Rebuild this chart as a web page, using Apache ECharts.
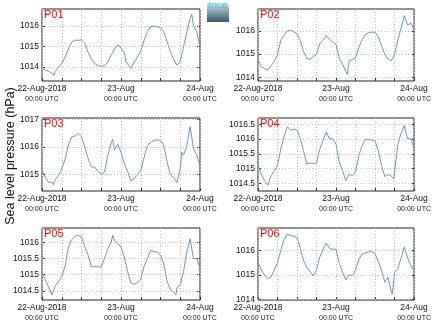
<!DOCTYPE html>
<html><head><meta charset="utf-8">
<script src="https://cdn.jsdelivr.net/npm/echarts@6/dist/echarts.min.js"></script>
<style>html,body{margin:0;padding:0;background:#fff}#c{width:434px;height:327px}</style>
</head><body><div id="c"></div>
<script>
// ---- data ----
const panelNames = ['P01', 'P02', 'P03', 'P04', 'P05', 'P06'];
const xTickLabels = { 0: ['22-Aug-2018', '00:00 UTC'], 24: ['23-Aug', '00:00 UTC'], 48: ['24-Aug', '00:00 UTC'] };
const yAxisTitle = 'Sea level pressure (hPa)';

const p01Hours = [0,1,2,3,3.6,4,5,6,7,8,9,10,11,12,13,14,15,16,17,18,19,20,21,22,23,23.7,24.2,25,25.5,26,27,28,29,30,31,32,33,34,35,36,37,38,39,40,41,42,43,44,45,45.5,46,47,48];
const p01Values = [1013.93,1013.84,1013.77,1013.70,1013.57,1013.75,1013.98,1014.16,1014.48,1014.87,1015.21,1015.31,1015.30,1015.32,1015.16,1014.72,1014.38,1014.16,1014.06,1014.03,1014.04,1014.23,1014.57,1014.87,1015.08,1014.98,1015.05,1014.70,1014.25,1014.30,1013.90,1014.23,1014.48,1014.77,1015.28,1015.72,1015.97,1016.00,1015.97,1015.93,1015.72,1015.23,1014.74,1014.36,1014.08,1014.25,1014.98,1015.72,1016.38,1016.59,1016.05,1015.72,1014.98];

const p02Hours = [0,1,2,3,4,5,6,7,8,9,10,11,12,13,14,15,16,17,18,19,20,21,22,23,24,25,26,27,27.5,28,29,30,31,32,33,34,35,36,37,38,39,40,41,42,43,44,45,46,47,48];
const p02Values = [1014.79,1014.45,1014.38,1014.30,1014.50,1014.70,1014.98,1015.60,1015.82,1016.00,1016.03,1015.96,1015.88,1015.58,1015.12,1014.82,1014.77,1014.90,1014.99,1015.46,1015.60,1015.82,1015.63,1015.52,1015.42,1014.80,1014.57,1014.25,1014.12,1014.70,1014.76,1014.85,1015.28,1015.62,1015.85,1015.92,1015.95,1015.94,1015.75,1015.38,1014.99,1014.79,1014.72,1014.98,1015.61,1016.12,1016.67,1016.25,1016.35,1016.04];

const p03Hours = [0,1,2,3,3.5,4,5,6,7,8,9,10,11,12,13,14,15,16,17,18,19,20,21,21.5,22,23,24,25,26,27,28,29,30,31,32,33,34,35,36,37,38,39,40,41,42,42.5,43,44,45,46,47,48];
const p03Values = [1015.15,1014.90,1014.70,1014.72,1014.62,1014.80,1014.95,1015.20,1015.55,1016.06,1016.36,1016.40,1016.49,1016.37,1016.00,1015.58,1015.27,1015.27,1015.10,1015.00,1015.08,1015.70,1016.14,1016.28,1015.90,1016.10,1015.80,1015.40,1015.12,1014.75,1014.85,1014.98,1015.15,1015.60,1016.05,1016.17,1016.24,1016.26,1016.24,1016.05,1015.45,1014.98,1014.88,1014.70,1015.20,1015.82,1015.70,1016.05,1016.75,1015.95,1015.70,1015.33];

const p04Hours = [0,1,2,3,4,5,6,7,8,9,10,11,12,13,14,15,16,17,18,19,20,21,22,23,24,25,26,27,28,29,30,31,32,33,34,35,36,37,38,39,40,41,41.8,42,43,44,45,46,47,48];
const p04Values = [1015.13,1014.80,1014.60,1014.44,1014.75,1014.93,1015.10,1015.65,1016.07,1016.42,1016.30,1016.33,1016.30,1016.02,1015.60,1015.15,1015.19,1015.16,1015.19,1015.65,1015.95,1016.24,1016.00,1016.01,1015.82,1015.22,1014.93,1014.59,1014.80,1014.76,1014.88,1015.44,1015.78,1015.99,1015.97,1015.97,1015.93,1015.60,1015.10,1014.73,1014.80,1014.75,1014.65,1014.90,1015.80,1016.20,1016.45,1016.00,1016.03,1015.67];

const p05Hours = [0,1,2,3,4,5,6,7,8,9,10,11,12,13,14,15,16,17,18,19,20,21,21.5,22,23,24,25,26,27,28,29,30,31,32,33,34,35,36,37,38,39,40,40.7,41,42,43,44,45,45.3,46,47,48];
const p05Values = [1015.06,1014.85,1014.62,1014.38,1014.65,1014.78,1014.95,1015.25,1015.85,1016.08,1016.18,1016.21,1016.17,1015.86,1015.60,1015.24,1015.25,1015.24,1015.25,1015.50,1015.80,1016.00,1016.22,1016.05,1015.97,1015.85,1015.55,1015.10,1014.75,1014.70,1014.77,1014.85,1015.25,1015.50,1015.75,1015.71,1015.70,1015.60,1015.33,1014.80,1014.55,1014.46,1014.38,1014.60,1014.70,1015.10,1015.70,1016.11,1016.16,1015.50,1015.50,1015.19];

const p06Hours = [0,1,2,3,4,5,6,7,8,9,10,11,12,13,14,15,16,17,18,19,20,21,22,23,24,25,26,27,28,29,30,31,32,33,34,35,36,37,38,39,40,40.5,41,41.3,42,43,44,45,46,47,48];
const p06Values = [1015.55,1015.20,1015.00,1014.85,1014.92,1015.20,1015.50,1016.00,1016.45,1016.68,1016.62,1016.60,1016.53,1016.10,1015.60,1015.32,1015.15,1014.97,1015.20,1015.73,1016.06,1016.31,1016.10,1016.05,1016.06,1015.47,1015.11,1014.80,1015.00,1014.98,1015.20,1015.62,1015.85,1015.90,1015.95,1015.97,1015.87,1015.55,1015.20,1014.70,1014.90,1014.85,1014.30,1014.21,1015.10,1015.25,1015.70,1016.15,1015.70,1015.38,1015.18];

const p01Ticks = [1014, 1015, 1016];
const p02Ticks = [1014, 1015, 1016];
const p03Ticks = [1015, 1016, 1017];
const p04Ticks = [1014.5, 1015, 1015.5, 1016, 1016.5];
const p05Ticks = [1014.5, 1015, 1015.5, 1016];
const p06Ticks = [1014, 1015, 1016];

const yRanges = [[1013.3, 1016.84], [1013.84, 1016.95], [1014.39, 1017.06], [1014.24, 1016.71], [1014.22, 1016.44], [1013.97, 1016.93]];

// ---- layout ----
const hoursList = [p01Hours, p02Hours, p03Hours, p04Hours, p05Hours, p06Hours];
const valuesList = [p01Values, p02Values, p03Values, p04Values, p05Values, p06Values];
const ticksList = [p01Ticks, p02Ticks, p03Ticks, p04Ticks, p05Ticks, p06Ticks];
const colLeft = [42, 258], colWidth = [158, 157];
const rowTop = [9, 118, 228], rowHeight = [72, 73, 72];
const FONT = 'Liberation Sans, Arial, Helvetica, sans-serif';
const gridLineStyle = { color: '#c4c4c4', type: [1, 2], width: 1 };

const grids = [], xAxes = [], yAxes = [], series = [], graphics = [];
panelNames.forEach((name, i) => {
  const r = Math.floor(i / 2), c = i % 2;
  grids.push({ left: colLeft[c], top: rowTop[r], width: colWidth[c], height: rowHeight[r],
    show: true, borderColor: '#222', borderWidth: 1, backgroundColor: '#fff' });
  xAxes.push({ type: 'value', gridIndex: i, min: 0, max: 48, interval: 6,
    axisLine: { show: false },
    axisTick: { show: true, inside: true, length: 3, lineStyle: { color: '#333' } },
    splitLine: { show: true, lineStyle: gridLineStyle },
    axisLabel: { show: true, margin: 3, showMinLabel: true, showMaxLabel: true, hideOverlap: false,
      formatter: v => xTickLabels[v] ? '{a|' + xTickLabels[v][0] + '}\n{b|' + xTickLabels[v][1] + '}' : '',
      rich: { a: { fontSize: 8.5, fontFamily: FONT, color: '#111', lineHeight: 10, align: 'center' },
              b: { fontSize: 7, fontFamily: FONT, color: '#222', lineHeight: 10, align: 'center' } } } });
  const ticks = ticksList[i];
  yAxes.push({ type: 'value', gridIndex: i, min: yRanges[i][0], max: yRanges[i][1],
    axisLine: { show: false },
    axisTick: { show: true, inside: true, length: 3, customValues: ticks, lineStyle: { color: '#333' } },
    splitLine: { show: false },
    axisLabel: { show: true, margin: 3, customValues: ticks, fontSize: 8.5, fontFamily: FONT, color: '#111',
      formatter: v => String(v) } });
  yAxes.push({ type: 'value', gridIndex: i, position: 'right', min: yRanges[i][0], max: yRanges[i][1],
    axisLine: { show: false },
    axisTick: { show: true, inside: true, length: 3, customValues: ticks, lineStyle: { color: '#333' } },
    splitLine: { show: false }, axisLabel: { show: false } });
  series.push({ type: 'line', xAxisIndex: i, yAxisIndex: 2 * i, showSymbol: false, silent: true, z: 3,
    data: hoursList[i].map((h, k) => [h, valuesList[i][k]]),
    lineStyle: { color: '#6697c4', width: 1 }, animation: false,
    markLine: { silent: true, symbol: 'none', label: { show: false }, animation: false, z: 1,
      lineStyle: gridLineStyle, emphasis: { disabled: true },
      data: ticks.map(t => ({ yAxis: t })) } });
  graphics.push({ type: 'text', left: colLeft[c] + 2, top: rowTop[r], z: 100,
    style: { text: name, fill: '#ff0000', fontSize: 11, fontFamily: FONT } });
});

graphics.push({ type: 'text', rotation: Math.PI / 2, x: 4, y: 156, z: 100,
  style: { text: yAxisTitle, fill: '#111', fontSize: 12.5, fontFamily: FONT, align: 'center', verticalAlign: 'top' } });
// small logo
graphics.push({ type: 'rect', left: 207, top: 3, z: 100,
  shape: { width: 22, height: 19 },
  style: { fill: new echarts.graphic.LinearGradient(0, 0, 0, 1, [
    { offset: 0, color: '#e6f1f4' }, { offset: 0.3, color: '#9fb6c2' }, { offset: 1, color: '#3e5566' }]) } });
graphics.push({ type: 'text', left: 207.5, top: 3, z: 101,
  style: { text: 'ZOCIB', fill: '#35bfd0', fontSize: 6.5, fontFamily: FONT } });

const chart = echarts.init(document.getElementById('c'), null, { renderer: 'canvas' });
chart.setOption({ animation: false, backgroundColor: '#fff', grid: grids, xAxis: xAxes, yAxis: yAxes, series, graphic: graphics });
</script></body></html>
